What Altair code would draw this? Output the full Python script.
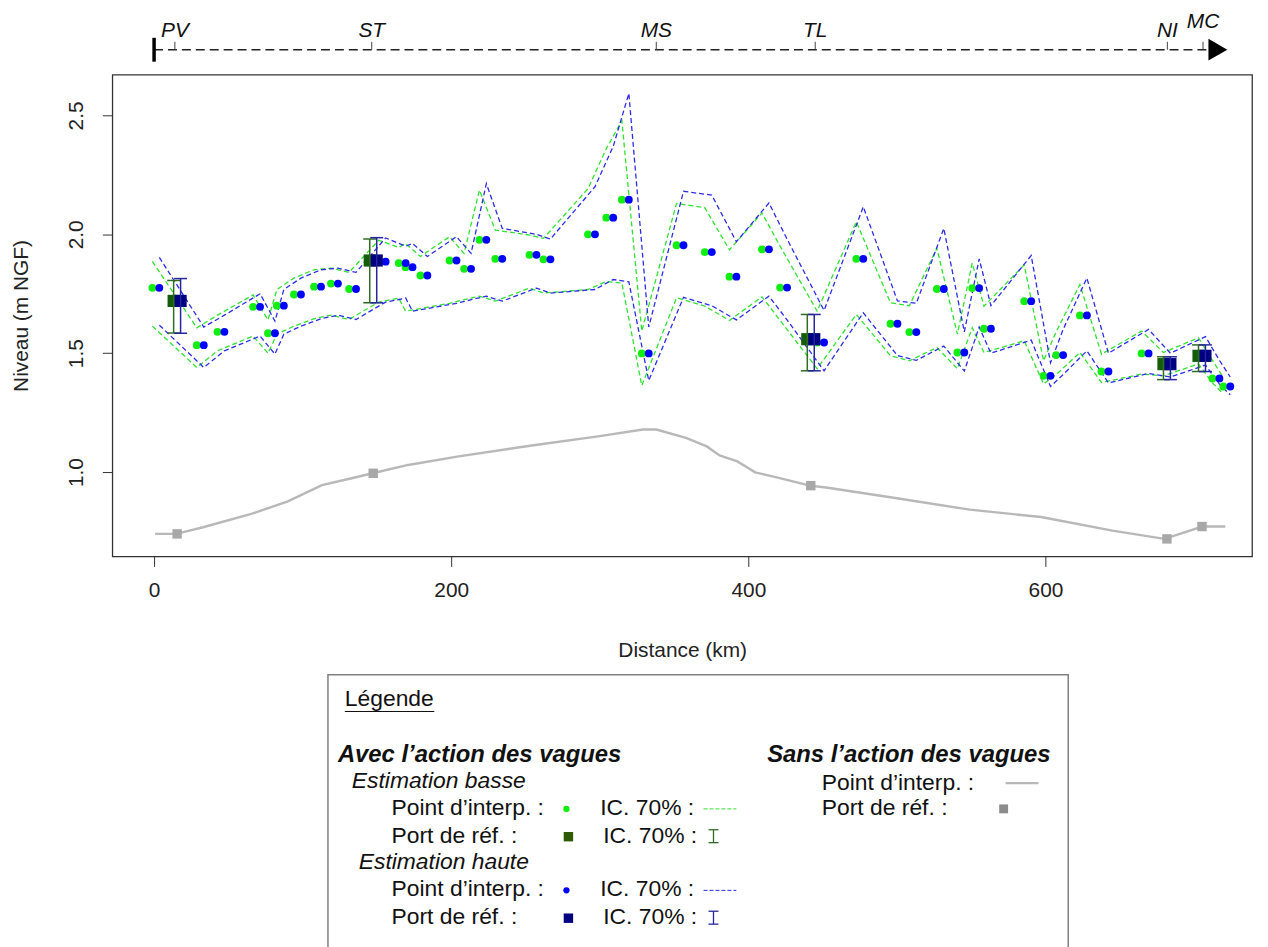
import altair as alt
import pandas as pd

FONT = "Liberation Sans"

# ---------------- data ----------------
# interpolation points (same level for "basse" and "haute")
PT_KM = [1.2, 31.1, 45, 69, 79, 85, 96.5, 110, 121.4, 133.6, 153.5, 167, 171.6, 181.6, 201.2,
         211, 221.3, 232, 255, 264.4, 294.4, 306.7, 317.2, 330.6, 354, 373, 389.6, 411.5, 423.7,
         448.6, 475, 498, 510.7, 529.2, 543, 553, 560.9, 588, 601, 609.5, 625.5, 640, 667, 714.7, 722]
PT_LEVEL = [1.775, 1.534, 1.59, 1.695, 1.584, 1.70, 1.747, 1.78, 1.793, 1.77, 1.885, 1.879, 1.862,
            1.827, 1.89, 1.855, 1.977, 1.897, 1.914, 1.895, 2.0, 2.07, 2.146, 1.499, 1.954, 1.925,
            1.822, 1.937, 1.776, 1.545, 1.897, 1.624, 1.589, 1.77, 1.503, 1.774, 1.603, 1.719, 1.405,
            1.492, 1.659, 1.423, 1.499, 1.394, 1.36]

# confidence band vertices (IC 70 %)
BAND_KM = [1.2, 31.1, 45, 69, 79, 85, 96.5, 110, 121.4, 133.6, 153.5, 167, 171.6, 181.6, 201.2,
           211, 221.3, 232, 255, 264.4, 294.4, 306.7, 317.2, 330.6, 354, 373, 389.6, 411.5, 423.7,
           448.6, 475, 498, 510.7, 529.2, 543, 553, 560.9, 588, 601, 609.5, 625.5, 640, 667, 681.7,
           705.3, 714.7, 722]
LOW_UP = [1.886, 1.607, 1.66, 1.745, 1.640, 1.768, 1.816, 1.851, 1.858, 1.840, 1.975, 1.945, 1.962,
          1.907, 1.99, 1.92, 2.186, 2.018, 1.997, 1.983, 2.192, 2.36, 2.478, 1.593, 2.13, 2.112,
          1.935, 2.09, 1.95, 1.677, 2.053, 1.712, 1.70, 1.942, 1.58, 1.879, 1.698, 1.872, 1.468,
          1.59, 1.789, 1.496, 1.593, 1.503, 1.565, 1.47, 1.398]
LOW_LO = [1.614, 1.44, 1.51, 1.572, 1.50, 1.58, 1.614, 1.645, 1.66, 1.642, 1.715, 1.732, 1.677,
          1.688, 1.71, 1.725, 1.74, 1.719, 1.774, 1.753, 1.768, 1.802, 1.795, 1.364, 1.733, 1.698,
          1.638, 1.737, 1.638, 1.435, 1.663, 1.489, 1.468, 1.524, 1.435, 1.607, 1.503, 1.552, 1.371,
          1.41, 1.503, 1.377, 1.412, 1.405, 1.455, 1.375, 1.329]
HIGH_UP = [1.903, 1.61, 1.66, 1.75, 1.635, 1.768, 1.816, 1.851, 1.858, 1.840, 1.985, 1.95, 1.962,
           1.907, 1.99, 1.92, 2.213, 2.025, 2.0, 1.98, 2.2, 2.37, 2.593, 1.61, 2.181, 2.165, 1.969,
           2.132, 1.98, 1.68, 2.116, 1.72, 1.71, 2.025, 1.59, 1.897, 1.70, 1.911, 1.46, 1.60, 1.816,
           1.50, 1.60, 1.50, 1.57, 1.47, 1.40]
HIGH_LO = [1.618, 1.44, 1.51, 1.572, 1.496, 1.58, 1.614, 1.645, 1.66, 1.642, 1.715, 1.732, 1.677,
           1.688, 1.71, 1.725, 1.74, 1.719, 1.774, 1.753, 1.768, 1.81, 1.80, 1.385, 1.735, 1.70,
           1.64, 1.74, 1.64, 1.426, 1.67, 1.49, 1.47, 1.53, 1.425, 1.61, 1.50, 1.555, 1.36, 1.41,
           1.51, 1.375, 1.415, 1.40, 1.45, 1.37, 1.325]

# reference ports
PORT_NAMES = ["PV", "ST", "TL", "NI", "MC"]
PORT_KM = [15.5, 147.5, 442, 681.7, 705.3]
PORT_LEVEL = [1.72, 1.89, 1.559, 1.454, 1.489]
PORT_LOW_CI_UP = [1.806, 1.98, 1.663, 1.485, 1.535]
PORT_LOW_CI_LO = [1.585, 1.712, 1.426, 1.389, 1.423]
PORT_HIGH_CI_UP = [1.814, 1.986, 1.663, 1.485, 1.535]
PORT_HIGH_CI_LO = [1.584, 1.712, 1.426, 1.389, 1.423]
PORT_NOWAVE_LEVEL = [0.74, 0.995, 0.943, 0.719, 0.771]

# without wave action
GRAY_KM = [0.7, 14.7, 21, 33, 66, 90, 113, 133, 147, 171, 205, 253, 300, 329, 338, 358, 372,
           380.6, 392.6, 404.6, 417, 441.5, 453.5, 501, 549, 597, 645, 680, 705.7, 721]
GRAY_LEVEL = [0.74, 0.74, 0.75, 0.768, 0.825, 0.877, 0.945, 0.974, 0.995, 1.03, 1.066, 1.111, 1.151,
              1.179, 1.179, 1.144, 1.108, 1.07, 1.045, 0.999, 0.981, 0.943, 0.934, 0.889, 0.842,
              0.811, 0.754, 0.719, 0.771, 0.771]

# coastline track
TRACK_NAMES = ["PV", "ST", "MS", "TL", "NI", "MC"]
TRACK_KM = [14, 146.5, 338, 445, 682, 706]
TRACK_START = 0
TRACK_END = 716

# ---------------- tables ----------------
pts = pd.DataFrame({"km": PT_KM, "level": PT_LEVEL})
ports = pd.DataFrame({"name": PORT_NAMES, "km": PORT_KM, "level": PORT_LEVEL,
                      "lo_up": PORT_LOW_CI_UP, "lo_lo": PORT_LOW_CI_LO,
                      "hi_up": PORT_HIGH_CI_UP, "hi_lo": PORT_HIGH_CI_LO,
                      "nowave": PORT_NOWAVE_LEVEL})
rows = []
for est, up, lo in [("basse", LOW_UP, LOW_LO), ("haute", HIGH_UP, HIGH_LO)]:
    for side, vals in [("sup", up), ("inf", lo)]:
        for k, v in zip(BAND_KM, vals):
            rows.append({"est": est, "side": side, "km": k, "level": v})
band = pd.DataFrame(rows)
gray = pd.DataFrame({"km": GRAY_KM, "level": GRAY_LEVEL})
track = pd.DataFrame({"name": TRACK_NAMES, "km": TRACK_KM})
extent = pd.DataFrame({"km": [TRACK_START], "km2": [TRACK_END]})
one = pd.DataFrame({"k": [0]})

# ---------------- scales / axes ----------------
xs = alt.Scale(domain=[-28.1, 739], nice=False, zero=False)
ys = alt.Scale(domain=[0.645, 2.672], nice=False, zero=False)
xaxis = alt.Axis(values=[0, 200, 400, 600], format="d", tickSize=10, labelPadding=13,
                 labelBaseline="top", grid=False, domain=False, titleY=95,
                 titleBaseline="middle")
yaxis = alt.Axis(values=[1.0, 1.5, 2.0, 2.5], format=".1f", labelAngle=270, labelAlign="center",
                 labelBaseline="bottom", labelPadding=16, tickSize=10, grid=False, domain=False,
                 titleAngle=270, titleX=-91, titleY=242.5, titleBaseline="middle",
                 titleAlign="center")
XT = "Distance (km)"
YT = "Niveau (m NGF)"


def X():
    return alt.X("km:Q", scale=xs, axis=xaxis, title=XT)


def Y(f):
    return alt.Y(f"{f}:Q", scale=ys, axis=yaxis, title=YT)


G_OFF, B_OFF = -3.5, 3.5
GREEN_LINE, BLUE_LINE = "#2fe22f", "#2b2be8"
GREEN_DOT, BLUE_DOT = "#12ee12", "#0000ff"
GREEN_SQ, BLUE_SQ = "#125c0a", "#000080"
GREEN_BAR, BLUE_BAR = "#2f6b22", "#25259e"
GRAY_L, GRAY_S = "#b8b8b8", "#a8a8a8"

layers = []
# without waves
layers.append(alt.Chart(gray).mark_line(color=GRAY_L, strokeWidth=2.4).encode(x=X(), y=Y("level")))
layers.append(alt.Chart(ports).mark_square(color=GRAY_S, size=90, opacity=1).encode(x=X(), y=Y("nowave")))
# bands
layers.append(alt.Chart(band).transform_filter(alt.datum.est == "basse")
              .mark_line(color=GREEN_LINE, strokeWidth=1.3, strokeDash=[5, 3], xOffset=G_OFF)
              .encode(x=X(), y=Y("level"), detail="side:N"))
layers.append(alt.Chart(band).transform_filter(alt.datum.est == "haute")
              .mark_line(color=BLUE_LINE, strokeWidth=1.3, strokeDash=[5, 3], xOffset=B_OFF)
              .encode(x=X(), y=Y("level"), detail="side:N"))
# interpolation points
layers.append(alt.Chart(pts).mark_circle(color=GREEN_DOT, size=62, opacity=1, xOffset=G_OFF)
              .encode(x=X(), y=Y("level")))
layers.append(alt.Chart(pts).mark_circle(color=BLUE_DOT, size=62, opacity=1, xOffset=B_OFF)
              .encode(x=X(), y=Y("level")))
# reference ports
layers.append(alt.Chart(ports).mark_square(color=GREEN_SQ, size=150, opacity=1, xOffset=G_OFF)
              .encode(x=X(), y=Y("level")))
layers.append(alt.Chart(ports).mark_square(color=BLUE_SQ, size=150, opacity=1, xOffset=B_OFF)
              .encode(x=X(), y=Y("level")))
for up, lo, col, off in [("lo_up", "lo_lo", GREEN_BAR, G_OFF), ("hi_up", "hi_lo", BLUE_BAR, B_OFF)]:
    layers.append(alt.Chart(ports).mark_rule(color=col, strokeWidth=1.5, xOffset=off)
                  .encode(x=X(), y=Y(lo), y2=alt.Y2(f"{up}:Q")))
    for f in (up, lo):
        layers.append(alt.Chart(ports).mark_tick(orient="horizontal", size=13, thickness=1.5,
                                                 color=col, opacity=1, xOffset=off)
                      .encode(x=X(), y=Y(f)))

# ---------------- coastline track above ----------------
layers.append(alt.Chart(extent).mark_rule(color="#222", strokeWidth=1.3, strokeDash=[9, 5])
              .encode(x=X(), x2=alt.X2("km2:Q"), y=alt.value(-25)))
layers.append(alt.Chart(extent).mark_rule(color="#000", strokeWidth=3.5)
              .encode(x=X(), y=alt.value(-37), y2=alt.value(-13)))
layers.append(alt.Chart(extent).mark_point(shape="triangle-right", filled=True, color="#000",
                                          size=480, opacity=1)
              .encode(x=alt.X("km2:Q", scale=xs, axis=xaxis, title=XT), y=alt.value(-25)))
layers.append(alt.Chart(track).mark_rule(color="#444", strokeWidth=1)
              .encode(x=X(), y=alt.value(-25), y2=alt.value(-33)))
layers.append(alt.Chart(track).transform_filter(alt.datum.name != "MC")
              .mark_text(font=FONT, fontSize=21, fontStyle="italic", color="#111",
                         baseline="middle", align="center")
              .encode(x=X(), y=alt.value(-44), text="name:N"))
layers.append(alt.Chart(track).transform_filter(alt.datum.name == "MC")
              .mark_text(font=FONT, fontSize=21, fontStyle="italic", color="#111",
                         baseline="middle", align="center")
              .encode(x=X(), y=alt.value(-53), text="name:N"))

# ---------------- legend box below ----------------
layers.append(alt.Chart(one).mark_rect(fill="white", stroke="#808080", strokeWidth=1.5)
              .encode(x=alt.value(217), x2=alt.value(962), y=alt.value(604), y2=alt.value(895)))


def txt(s, x, y, size=23, style="normal", weight="normal"):
    return (alt.Chart(one).mark_text(align="left", baseline="middle", font=FONT, fontSize=size,
                                     fontStyle=style, fontWeight=weight, color="#111")
            .encode(x=alt.value(x), y=alt.value(y), text=alt.value(s)))


def hrule(x1, x2, y, col, dash=None, w=1.0):
    kw = {"color": col, "strokeWidth": w}
    if dash:
        kw["strokeDash"] = dash
    return alt.Chart(one).mark_rule(**kw).encode(x=alt.value(x1), x2=alt.value(x2), y=alt.value(y))


def vbar(x, y1, y2, col):
    return [alt.Chart(one).mark_rule(color=col, strokeWidth=1.3)
            .encode(x=alt.value(x), y=alt.value(y1), y2=alt.value(y2)),
            hrule(x - 5, x + 5, y1, col, w=1.3), hrule(x - 5, x + 5, y2, col, w=1.3)]


def sym(kind, x, y, col, size):
    m = alt.Chart(one)
    m = m.mark_circle(color=col, size=size, opacity=1) if kind == "circle" else \
        m.mark_square(color=col, size=size, opacity=1)
    return m.encode(x=alt.value(x), y=alt.value(y))


layers += [
    txt("Légende", 234, 628),
    hrule(234, 324, 641, "#111", w=1.2),
    txt("Avec l’action des vagues", 227, 685, size=24, style="italic", weight="bold"),
    txt("Estimation basse", 241, 711, style="italic"),
    txt("Point d’interp. :", 281, 738),
    sym("circle", 457, 739, GREEN_DOT, 40),
    txt("IC. 70% :", 491, 738),
    hrule(595, 628, 739, GREEN_LINE, dash=[4, 2]),
    txt("Port de réf. :", 281, 766),
    sym("square", 459, 767, "#2f5a05", 90),
    txt("IC. 70% :", 494, 766),
    txt("Estimation haute", 248, 793, style="italic"),
    txt("Point d’interp. :", 281, 820),
    sym("circle", 457, 821, BLUE_DOT, 40),
    txt("IC. 70% :", 491, 820),
    hrule(595, 628, 821, BLUE_LINE, dash=[4, 2]),
    txt("Port de réf. :", 281, 848),
    sym("square", 459, 849, BLUE_SQ, 90),
    txt("IC. 70% :", 494, 848),
    txt("Sans l’action des vagues", 659, 685, size=24, style="italic", weight="bold"),
    txt("Point d’interp. :", 714, 713),
    hrule(899, 932, 713, GRAY_L, w=2.2),
    txt("Port de réf. :", 714, 738),
    sym("square", 897, 739, "#8c8c8c", 80),
]
layers += vbar(605, 760, 773, GREEN_BAR)
layers += vbar(605, 842, 855, BLUE_BAR)

chart = (alt.layer(*layers)
         .properties(width=1147, height=485,
                     autosize=alt.AutoSizeParams(type="none"),
                     padding={"left": 105, "top": 64, "right": 8, "bottom": 390},
                     background="white")
         .configure_view(stroke="#333", strokeWidth=1.3)
         .configure_axis(labelFont=FONT, titleFont=FONT, labelFontSize=21, titleFontSize=21,
                         titleFontWeight="normal", labelColor="#222", titleColor="#222",
                         tickColor="#333", tickWidth=1))

chart.save("out.html", embed_options={"renderer": "svg", "actions": False})
